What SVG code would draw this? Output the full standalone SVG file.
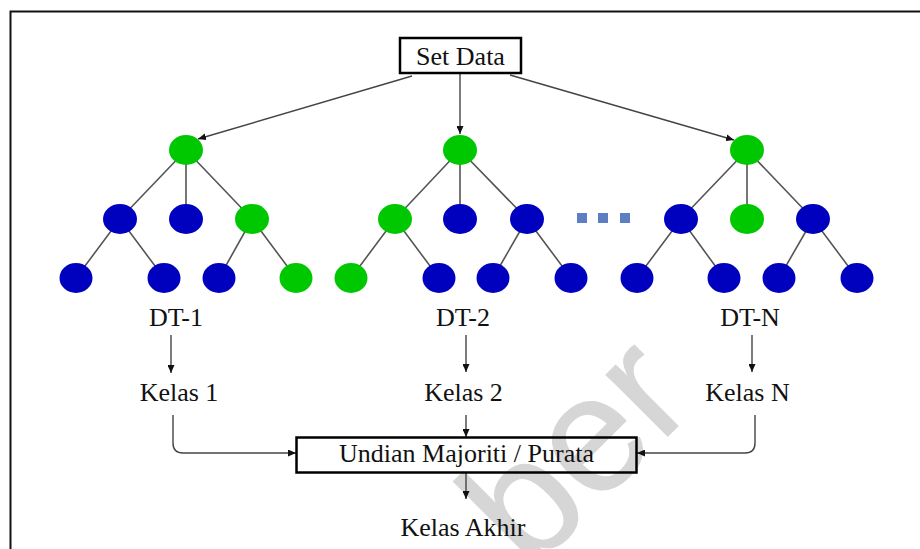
<svg xmlns="http://www.w3.org/2000/svg" width="920" height="549" viewBox="0 0 920 549">
  <style>
    .frame { fill: none; stroke: #111; stroke-width: 2; }
    .box { fill: none; stroke: #000; stroke-width: 2.5; }
    .lbl { font-family: "Liberation Serif", "Times New Roman", serif; font-size: 26px; fill: #111; text-anchor: middle; }
    .edge { stroke: #555; stroke-width: 1.6; fill: none; }
    .conn { stroke: #444; stroke-width: 1.4; fill: none; marker-end: url(#arrow); }
    .g { fill: #00c800; }
    .b { fill: #0000bf; }
    .dot { fill: #5b7fc2; }
    .wm { font-family: "Liberation Sans", Arial, sans-serif; font-size: 165px; fill: #d6d6d6; stroke: #d6d6d6; stroke-width: 1; }
  </style>
  <defs>
    <marker id="arrow" markerWidth="8" markerHeight="7" refX="8" refY="3.5" orient="auto" markerUnits="userSpaceOnUse">
      <path d="M0,0 L8,3.5 L0,7 z" fill="#111"/>
    </marker>
  </defs>

  <rect width="920" height="549" fill="#fff"/>

  <!-- faint watermark behind the drawing -->
  <text class="wm" transform="translate(530 574) rotate(-45)">ber</text>

  <!-- outer frame (top and left edges) -->
  <path class="frame" d="M10.5,549 V11.5 H920"/>

  <!-- tree edges -->
  <g id="tree-edges">
    <path class="edge" d="M186,150 L120,219 M186,150 L186,219 M186,150 L252,219 M120,219 L76,278 M120,219 L164,278 M252,219 L219,278 M252,219 L296,278"/>
    <path class="edge" d="M460,150 L395,219 M460,150 L460,219 M460,150 L527,219 M395,219 L351,278 M395,219 L439,278 M527,219 L493,278 M527,219 L571,278"/>
    <path class="edge" d="M747,150 L681,219 M747,150 L747,219 M747,150 L813,219 M681,219 L637,278 M681,219 L724,278 M813,219 L779,278 M813,219 L857,278"/>
  </g>

  <!-- connectors -->
  <g id="connectors">
    <line class="conn" x1="412" y1="76" x2="198" y2="139"/>
    <line class="conn" x1="460" y1="73" x2="460" y2="134"/>
    <line class="conn" x1="510" y1="75" x2="734" y2="140"/>
    <line class="conn" x1="171" y1="335" x2="171" y2="373"/>
    <line class="conn" x1="466" y1="335" x2="466" y2="372"/>
    <line class="conn" x1="752" y1="335" x2="752" y2="372"/>
    <path class="conn" d="M173,415 V443 Q173,453 183,453 H296"/>
    <line class="conn" x1="466" y1="415" x2="466" y2="437"/>
    <path class="conn" d="M755,415 V443 Q755,453 745,453 H637"/>
    <line class="conn" x1="466" y1="473" x2="466" y2="499"/>
  </g>

  <g id="set-data">
    <rect class="box" x="400" y="38" width="121" height="35"/>
    <text class="lbl" x="460.5" y="65">Set Data</text>
  </g>

  <g id="dt-1">
    <ellipse class="g" cx="186" cy="150" rx="17" ry="15"/>
    <ellipse class="b" cx="120" cy="219" rx="17" ry="15"/>
    <ellipse class="b" cx="186" cy="219" rx="17" ry="15"/>
    <ellipse class="g" cx="252" cy="219" rx="17" ry="15"/>
    <ellipse class="b" cx="76" cy="278" rx="16.5" ry="15"/>
    <ellipse class="b" cx="164" cy="278" rx="16.5" ry="15"/>
    <ellipse class="b" cx="219" cy="278" rx="16.5" ry="15"/>
    <ellipse class="g" cx="296" cy="278" rx="16.5" ry="15"/>
    <text class="lbl" x="176" y="326">DT-1</text>
  </g>

  <g id="dt-2">
    <ellipse class="g" cx="460" cy="150" rx="17" ry="15"/>
    <ellipse class="g" cx="395" cy="219" rx="17" ry="15"/>
    <ellipse class="b" cx="460" cy="219" rx="17" ry="15"/>
    <ellipse class="b" cx="527" cy="219" rx="17" ry="15"/>
    <ellipse class="g" cx="351" cy="278" rx="16.5" ry="15"/>
    <ellipse class="b" cx="439" cy="278" rx="16.5" ry="15"/>
    <ellipse class="b" cx="493" cy="278" rx="16.5" ry="15"/>
    <ellipse class="b" cx="571" cy="278" rx="16.5" ry="15"/>
    <text class="lbl" x="463" y="326">DT-2</text>
  </g>

  <g id="ellipsis">
    <rect class="dot" x="577" y="213" width="10" height="10"/>
    <rect class="dot" x="598" y="213" width="10" height="10"/>
    <rect class="dot" x="620" y="213" width="10" height="10"/>
  </g>

  <g id="dt-n">
    <ellipse class="g" cx="747" cy="150" rx="17" ry="15"/>
    <ellipse class="b" cx="681" cy="219" rx="17" ry="15"/>
    <ellipse class="g" cx="747" cy="219" rx="17" ry="15"/>
    <ellipse class="b" cx="813" cy="219" rx="17" ry="15"/>
    <ellipse class="b" cx="637" cy="278" rx="16.5" ry="15"/>
    <ellipse class="b" cx="724" cy="278" rx="16.5" ry="15"/>
    <ellipse class="b" cx="779" cy="278" rx="16.5" ry="15"/>
    <ellipse class="b" cx="857" cy="278" rx="16.5" ry="15"/>
    <text class="lbl" x="750" y="326">DT-N</text>
  </g>

  <g id="kelas-1"><text class="lbl" x="179" y="401">Kelas 1</text></g>
  <g id="kelas-2"><text class="lbl" x="463.5" y="401">Kelas 2</text></g>
  <g id="kelas-n"><text class="lbl" x="747.5" y="401">Kelas N</text></g>

  <g id="undian">
    <rect class="box" x="296.5" y="437.5" width="340" height="35"/>
    <text class="lbl" x="466.5" y="462">Undian Majoriti / Purata</text>
  </g>

  <g id="kelas-akhir"><text class="lbl" x="463" y="536">Kelas Akhir</text></g>
</svg>
